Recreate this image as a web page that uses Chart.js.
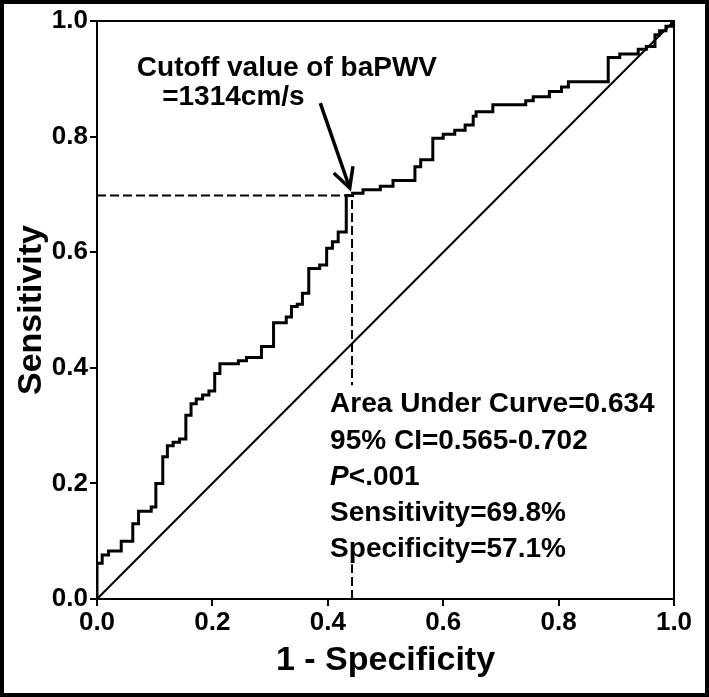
<!DOCTYPE html>
<html>
<head>
<meta charset="utf-8">
<script src="https://cdn.jsdelivr.net/npm/chart.js@4.4.1/dist/chart.umd.min.js"></script>
<style>
  html, body { margin: 0; padding: 0; background: #fff; }
  canvas { display: block; }
</style>
</head>
<body>
<canvas id="c" width="709" height="697"></canvas>
<script>
// ROC curve points: at each fpr value the curve rises to the tpr value
const fpr = [0, 0, 0.009, 0.020, 0.042, 0.062, 0.072, 0.094, 0.102, 0.114, 0.122, 0.132, 0.143, 0.154, 0.163, 0.172, 0.183, 0.194, 0.204, 0.213, 0.245, 0.259, 0.285, 0.306, 0.328, 0.337, 0.347, 0.356, 0.367, 0.386, 0.398, 0.408, 0.418, 0.432, 0.443, 0.461, 0.491, 0.513, 0.551, 0.561, 0.582, 0.600, 0.620, 0.638, 0.652, 0.657, 0.686, 0.743, 0.756, 0.784, 0.805, 0.817, 0.886, 0.906, 0.938, 0.952, 0.967, 0.975, 0.986, 0.996, 1.0];
const tpr = [0, 0.062, 0.076, 0.083, 0.100, 0.130, 0.152, 0.159, 0.200, 0.246, 0.265, 0.271, 0.277, 0.318, 0.338, 0.346, 0.353, 0.360, 0.390, 0.407, 0.412, 0.418, 0.437, 0.478, 0.488, 0.506, 0.510, 0.529, 0.572, 0.578, 0.607, 0.618, 0.635, 0.698, 0.702, 0.708, 0.714, 0.724, 0.748, 0.760, 0.797, 0.804, 0.811, 0.820, 0.835, 0.843, 0.855, 0.862, 0.869, 0.878, 0.886, 0.895, 0.937, 0.943, 0.951, 0.956, 0.976, 0.983, 0.991, 0.996, 1.0];
const refLine = [0, 1];
const cutoffSens = 0.698;
const cutoffFprCurve = 0.432;
const cutoffFprLine = 0.442;
const tickValues = [0, 0.2, 0.4, 0.6, 0.8, 1.0];
const tickLabels = ['0.0', '0.2', '0.4', '0.6', '0.8', '1.0'];
const xTitle = '1 - Specificity';
const yTitle = 'Sensitivity';
const cutoffText = ['Cutoff value of baPWV', '=1314cm/s'];
const statsText = ['Area Under Curve=0.634', '95% CI=0.565-0.702', 'P<.001', 'Sensitivity=69.8%', 'Specificity=57.1%'];

// build step corners
const rocData = [];
for (let i = 0; i < fpr.length; i++) {
  if (i > 0) rocData.push({x: fpr[i], y: tpr[i - 1]});
  rocData.push({x: fpr[i], y: tpr[i]});
}

const FONT = "'Liberation Sans', Arial, sans-serif";
Chart.defaults.font.family = FONT;
Chart.defaults.color = '#000';

const annot = {
  id: 'annot',
  beforeDraw(chart) {
    const ctx = chart.ctx;
    ctx.save();
    ctx.fillStyle = '#fff';
    ctx.fillRect(0, 0, chart.width, chart.height);
    ctx.restore();
  },
  afterDatasetsDraw(chart) {
    const ctx = chart.ctx;
    const xs = chart.scales.x, ys = chart.scales.y;
    const a = chart.chartArea;
    ctx.save();
    // plot frame top/right
    ctx.strokeStyle = '#000';
    ctx.lineWidth = 2;
    ctx.beginPath();
    ctx.moveTo(a.left, a.top);
    ctx.lineTo(a.right, a.top);
    ctx.lineTo(a.right, a.bottom);
    ctx.stroke();

    // stats box
    const bx = xs.getPixelForValue(0.390), by = ys.getPixelForValue(0.370);
    const bx2 = xs.getPixelForValue(0.975), by2 = ys.getPixelForValue(0.060);
    ctx.fillStyle = '#fff';
    ctx.fillRect(bx, by, bx2 - bx, by2 - by);

    ctx.fillStyle = '#000';
    ctx.textBaseline = 'middle';
    ctx.textAlign = 'left';
    ctx.font = "bold 28px " + FONT;
    ctx.fillText(cutoffText[0], xs.getPixelForValue(0.069), ys.getPixelForValue(0.919));
    ctx.fillText(cutoffText[1], xs.getPixelForValue(0.113), ys.getPixelForValue(0.868));

    const sx = xs.getPixelForValue(0.404);
    const yv = [0.337, 0.273, 0.211, 0.149, 0.0865];
    statsText.forEach((t, i) => {
      const py = ys.getPixelForValue(yv[i]);
      if (t.startsWith('P<')) {
        ctx.font = "italic bold 28px " + FONT;
        ctx.fillText('P', sx, py);
        const w = ctx.measureText('P').width;
        ctx.font = "bold 28px " + FONT;
        ctx.fillText(t.slice(1), sx + w, py);
      } else {
        ctx.font = "bold 28px " + FONT;
        ctx.fillText(t, sx, py);
      }
    });

    // arrow
    const tx = xs.getPixelForValue(0.387), ty = ys.getPixelForValue(0.858);
    const hx = xs.getPixelForValue(0.438), hy = ys.getPixelForValue(0.711);
    ctx.lineWidth = 3.5;
    ctx.lineCap = 'butt';
    ctx.lineJoin = 'miter';
    ctx.beginPath();
    ctx.moveTo(tx, ty);
    ctx.lineTo(hx, hy);
    ctx.stroke();
    const ang = Math.atan2(hy - ty, hx - tx);
    const L = 22, spread = 0.48;
    ctx.beginPath();
    ctx.moveTo(hx - L * Math.cos(ang - spread), hy - L * Math.sin(ang - spread));
    ctx.lineTo(hx, hy);
    ctx.lineTo(hx - L * Math.cos(ang + spread), hy - L * Math.sin(ang + spread));
    ctx.stroke();
    ctx.restore();
  },
  afterDraw(chart) {
    const ctx = chart.ctx;
    ctx.save();
    ctx.strokeStyle = '#000';
    ctx.lineWidth = 4;
    ctx.strokeRect(2, 2, chart.width - 4, chart.height - 4);
    ctx.restore();
  }
};

new Chart(document.getElementById('c'), {
  type: 'scatter',
  data: {
    datasets: [
      {
        data: [{x: 0, y: cutoffSens}, {x: cutoffFprCurve, y: cutoffSens}],
        showLine: true, borderColor: '#000', borderWidth: 2, borderDash: [9, 4], pointRadius: 0
      },
      {
        data: [{x: cutoffFprLine, y: 0}, {x: cutoffFprLine, y: cutoffSens}],
        showLine: true, borderColor: '#000', borderWidth: 2, borderDash: [9, 4], pointRadius: 0
      },
      {
        data: refLine.map(v => ({x: v, y: v})),
        showLine: true, borderColor: '#000', borderWidth: 2, pointRadius: 0
      },
      {
        data: rocData,
        showLine: true, borderColor: '#000', borderWidth: 3, pointRadius: 0, borderJoinStyle: 'miter'
      }
    ]
  },
  options: {
    responsive: false,
    devicePixelRatio: 1,
    animation: false,
    events: [],
    layout: { padding: { top: 21, right: 35, left: 0, bottom: 0 } },
    plugins: { legend: { display: false }, tooltip: { enabled: false } },
    scales: {
      x: {
        type: 'linear', min: 0, max: 1,
        afterBuildTicks: s => { s.ticks = tickValues.map(v => ({value: v})); },
        afterFit: s => { s.height = 98; },
        ticks: {
          autoSkip: false, maxRotation: 0, padding: 1,
          callback: (v, i) => tickLabels[i],
          font: { size: 26, weight: 'bold' }, color: '#000'
        },
        grid: { display: true, drawOnChartArea: false, drawTicks: true, tickLength: 7, color: '#000', lineWidth: 2 },
        border: { display: true, color: '#000', width: 2 },
        title: { display: true, text: xTitle, font: { size: 34, weight: 'bold' }, color: '#000', padding: { top: 0, bottom: 16 } }
      },
      y: {
        type: 'linear', min: 0, max: 1,
        afterBuildTicks: s => { s.ticks = tickValues.map(v => ({value: v})); },
        afterFit: s => { s.width = 97; },
        ticks: {
          autoSkip: false, padding: 2,
          callback: (v, i) => tickLabels[i],
          font: { size: 26, weight: 'bold' }, color: '#000'
        },
        grid: { display: true, drawOnChartArea: false, drawTicks: true, tickLength: 7, color: '#000', lineWidth: 2 },
        border: { display: true, color: '#000', width: 2 },
        title: { display: true, text: yTitle, font: { size: 34, weight: 'bold' }, color: '#000', padding: { top: 11, bottom: 0 } }
      }
    }
  },
  plugins: [annot]
});
</script>
</body>
</html>
